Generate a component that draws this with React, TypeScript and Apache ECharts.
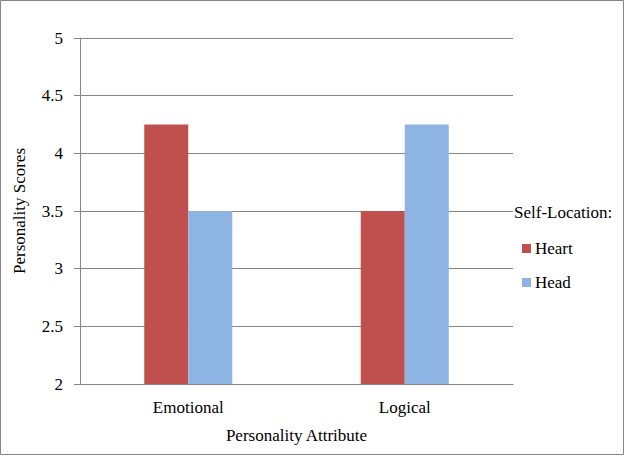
import React, { useEffect, useRef } from "react";
import * as echarts from "echarts";

const categories = ["Emotional", "Logical"];
const heartValues = [4.25, 3.5];
const headValues = [3.5, 4.25];
const seriesNames = ["Heart", "Head"];

const FONT = "Times New Roman, Liberation Serif, DejaVu Serif, serif";
const GRID = "#868686";

export default function App() {
  const ref = useRef<HTMLDivElement>(null);
  useEffect(() => {
    if (!ref.current) return;
    const chart = echarts.init(ref.current, undefined, { renderer: "svg" });
    chart.setOption({
      animation: false,
      backgroundColor: "#ffffff",
      textStyle: { fontFamily: FONT },
      grid: { left: 80, right: 112, top: 38, bottom: 73 },
      graphic: [
        {
          type: "rect",
          shape: { x: 0.5, y: 0.5, width: 623, height: 454 },
          style: { fill: "none", stroke: GRID, lineWidth: 1 },
          silent: true,
        },
        {
          type: "text",
          x: 514,
          y: 212,
          style: {
            text: "Self-Location:",
            fontFamily: FONT,
            fontSize: 17,
            fill: "#000",
            verticalAlign: "middle",
            align: "left",
          },
        },
      ],
      legend: {
        orient: "vertical",
        left: 517,
        top: 235,
        itemWidth: 9,
        itemHeight: 9,
        itemGap: 17,
        icon: "rect",
        data: seriesNames,
        textStyle: { fontFamily: FONT, fontSize: 17, color: "#000", padding: [0, 0, 0, -1] },
      },
      xAxis: {
        type: "category",
        data: categories,
        name: "Personality Attribute",
        nameLocation: "middle",
        nameGap: 43,
        nameTextStyle: { fontFamily: FONT, fontSize: 17, color: "#000" },
        axisTick: { show: false },
        axisLine: { lineStyle: { color: GRID, width: 1 } },
        axisLabel: { fontFamily: FONT, fontSize: 17, color: "#000", margin: 15 },
      },
      yAxis: {
        type: "value",
        min: 2,
        max: 5,
        interval: 0.5,
        name: "Personality Scores",
        nameLocation: "middle",
        nameGap: 52,
        nameTextStyle: { fontFamily: FONT, fontSize: 17, color: "#000" },
        axisLine: { show: true, lineStyle: { color: GRID, width: 1 } },
        axisTick: { show: true, length: 6, lineStyle: { color: GRID } },
        splitLine: { lineStyle: { color: GRID, width: 1 } },
        axisLabel: { fontFamily: FONT, fontSize: 17, color: "#000", margin: 17 },
      },
      series: [
        {
          name: seriesNames[0],
          type: "bar",
          data: heartValues,
          barWidth: 44,
          barGap: "0%",
          itemStyle: { color: "#C0504D" },
        },
        {
          name: seriesNames[1],
          type: "bar",
          data: headValues,
          barWidth: 44,
          barGap: "0%",
          itemStyle: { color: "#8EB4E3" },
        },
      ],
    });
    return () => chart.dispose();
  }, []);
  return (
    <div
      ref={ref}
      style={{ position: "absolute", left: 0, top: 0, width: 625, height: 457 }}
    />
  );
}
